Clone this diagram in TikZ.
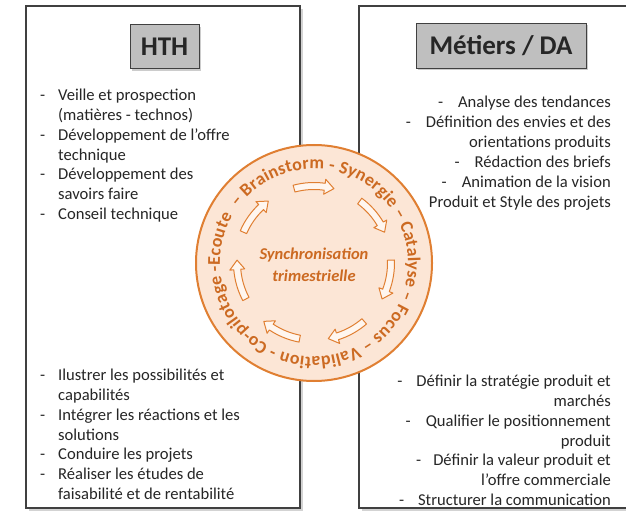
\documentclass[tikz,border=0pt]{standalone}
\usepackage{fontspec}
\setmainfont{Carlito}
\usetikzlibrary{shadows,decorations.text}
\definecolor{frame}{HTML}{404040}
\definecolor{ttl}{HTML}{BFBFBF}
\definecolor{orng}{HTML}{E07F32}
\definecolor{orngtxt}{HTML}{CC6A22}
\definecolor{peach}{HTML}{FCE6D6}
\definecolor{arfill}{HTML}{FFF6EF}
\definecolor{txt}{HTML}{262626}
\begin{document}
\begin{tikzpicture}[x=1pt,y=1pt,
  panel/.style={draw=frame, line width=1.6pt, fill=white, inner sep=0pt,
    drop shadow={shadow xshift=3pt, shadow yshift=-3pt, opacity=0.35}},
  ttlbox/.style={draw=frame, line width=1pt, fill=ttl, inner sep=0pt,
    font=\fontsize{27}{30}\selectfont\bfseries, text=txt,
    drop shadow={shadow xshift=2pt, shadow yshift=-2pt, opacity=0.4}},
  body/.style={font=\fontsize{16.6}{19.8}\selectfont, text=txt, inner sep=0pt},
  cyarrow/.style={draw=orng, fill=arfill, line width=1pt, line join=round},
]
\clip (0,0) rectangle (626,512);
% panels
\node[panel, minimum width=274pt, minimum height=502pt, anchor=south west] (lp) at (25,3) {};
\node[panel, minimum width=290pt, minimum height=502pt, anchor=south west] (rp) at (358,3) {};
% titles
\node[ttlbox, minimum width=69pt, minimum height=44pt] (hth) at (164.5,465) {HTH};
\node[ttlbox, minimum width=170pt, minimum height=45pt] (met) at (501,466) {Métiers / DA};
% left texts
\node[body, anchor=north west, align=left] (htop) at (40,423) {%
\makebox[18pt][l]{-}Veille et prospection\\
\hspace*{18pt}(matières - technos)\\
\makebox[18pt][l]{-}Développement de l’offre\\
\hspace*{18pt}technique\\
\makebox[18pt][l]{-}Développement des\\
\hspace*{18pt}savoirs faire\\
\makebox[18pt][l]{-}Conseil technique};
\node[body, anchor=north west, align=left] (hbot) at (40,143) {%
\makebox[18pt][l]{-}Ilustrer les possibilités et\\
\hspace*{18pt}capabilités\\
\makebox[18pt][l]{-}Intégrer les réactions et les\\
\hspace*{18pt}solutions\\
\makebox[18pt][l]{-}Conduire les projets\\
\makebox[18pt][l]{-}Réaliser les études de\\
\hspace*{18pt}faisabilité et de rentabilité};
% right texts
\node[body, anchor=north east, align=right, font=\fontsize{16.6}{20}\selectfont] (mtop) at (611,416) {%
-\hspace{15pt}Analyse des tendances\\
-\hspace{15pt}Définition des envies et des\\
orientations produits\\
-\hspace{15pt}Rédaction des briefs\\
-\hspace{15pt}Animation de la vision\\
Produit et Style des projets};
\node[body, anchor=north east, align=right] (mbot) at (611,137) {%
-\hspace{14pt}Définir la stratégie produit et\\
marchés\\
-\hspace{15pt}Qualifier le positionnement\\
produit\\
-\hspace{12pt}Définir la valeur produit et\\
l’offre commerciale\\
-\hspace{14pt}Structurer la communication};
% cycle
\node[circle, draw=orng, line width=2pt, fill=peach, minimum size=236pt, inner sep=0pt] (cyc) at (314,249) {};
\path[decorate, decoration={text along path, text align=fit to path,
  text={|\fontsize{18}{18}\selectfont\bfseries\color{orngtxt}|– Brainstorm - Synergie – Catalyse – Focus – Validation - Co-pilotage -Ecoute}}]
  ([shift={(144:94)}]cyc.center) arc[start angle=144, end angle=-210, radius=94];
\foreach \a in {90, 38.57, -12.86, -64.29, -115.71, -167.14, 141.43} {
  \draw[cyarrow] ([shift={(\a+15:80.5)}]cyc.center) arc[start angle=\a+15, end angle=\a-8, radius=80.5]
    -- ([shift={(\a-8:84.5)}]cyc.center) -- ([shift={(\a-15:77)}]cyc.center)
    -- ([shift={(\a-8:69.5)}]cyc.center) -- ([shift={(\a-8:73.5)}]cyc.center)
    arc[start angle=\a-8, end angle=\a+15, radius=73.5] -- cycle;
}
\node[font=\fontsize{16.5}{22}\selectfont\bfseries\itshape, text=orngtxt, align=center, inner sep=0pt] (sync) at (314,247) {Synchronisation\\trimestrielle};
\end{tikzpicture}
\end{document}
